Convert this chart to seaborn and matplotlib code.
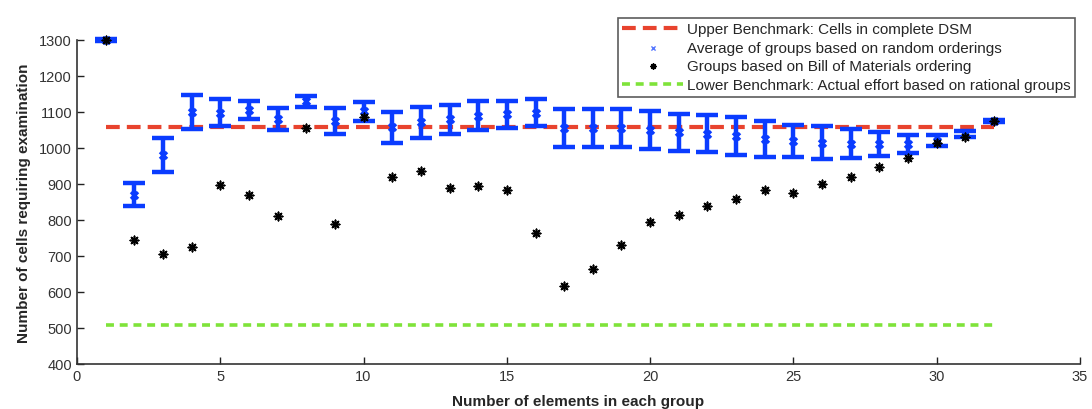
import matplotlib
matplotlib.use('Agg')
import matplotlib.pyplot as plt
import seaborn as sns
import numpy as np

# group size on the x axis
group_sizes = list(range(1, 33))

# average of random orderings and the spread of the error bars
random_mean = [1300, 870, 980, 1100, 1098, 1105, 1080, 1130, 1075, 1102,
               1058, 1072, 1080, 1090, 1093, 1098, 1055, 1055, 1055, 1050,
               1043, 1040, 1033, 1025, 1020, 1015, 1012, 1010, 1010, 1020,
               1038, 1075]
random_err = [3, 32, 47, 47, 38, 25, 30, 15, 35, 27,
              43, 43, 40, 40, 38, 38, 52, 52, 52, 52,
              52, 52, 52, 50, 45, 45, 40, 33, 25, 15,
              8, 4]

# bill of materials ordering
bom_values = [1300, 745, 705, 725, 897, 868, 810, 1055, 790, 1085,
              920, 935, 890, 893, 883, 765, 617, 665, 730, 795,
              815, 838, 858, 882, 875, 900, 920, 948, 972, 1015,
              1030, 1075]

upper_benchmark = 1057
lower_benchmark = 508

sns.set_style('ticks')
plt.rcParams['font.family'] = ['Liberation Sans', 'DejaVu Sans']
plt.rcParams['xtick.direction'] = 'in'
plt.rcParams['ytick.direction'] = 'in'

fig = plt.figure(figsize=(10.92, 4.10), dpi=100)
ax = fig.add_axes([0.0705, 0.11, 0.9185, 0.79])

red = '#e8432e'
green = '#7fe33a'
blue = '#0a3cff'

# upper benchmark
sns.lineplot(x=group_sizes, y=[upper_benchmark] * len(group_sizes), ax=ax,
             color=red, linewidth=3, linestyle=(0, (3.3, 1.7)),
             label='Upper Benchmark: Cells in complete DSM', zorder=2)

# random orderings with error bars
eb = ax.errorbar(group_sizes, random_mean, yerr=random_err, fmt='none',
                 ecolor=blue, elinewidth=3.2, capsize=8, capthick=3.2, zorder=3)
for part in eb.lines[1] + eb.lines[2]:
    part.set_clip_on(False)
sns.scatterplot(x=group_sizes, y=random_mean, ax=ax, marker='x', color=blue,
                s=25, linewidth=2.5, zorder=4, clip_on=False,
                label='Average of groups based on random orderings')

# bill of materials ordering
sns.scatterplot(x=group_sizes, y=bom_values, ax=ax, marker=(8, 2, 0),
                color='black', s=36, linewidth=1.2, edgecolor='black', zorder=5,
                clip_on=False,
                label='Groups based on Bill of Materials ordering')

# lower benchmark
sns.lineplot(x=group_sizes, y=[lower_benchmark] * len(group_sizes), ax=ax,
             color=green, linewidth=2.6, linestyle=(0, (2.2, 1.6)),
             label='Lower Benchmark: Actual effort based on rational groups',
             zorder=2)

ax.set_xlim(0, 35)
ax.set_ylim(400, 1300)
ax.set_xticks(np.arange(0, 36, 5))
ax.set_yticks(np.arange(400, 1301, 100))
ax.tick_params(labelsize=10.5, colors='#222222', length=5, width=1)
for lab in ax.get_xticklabels() + ax.get_yticklabels():
    lab.set_color('#333333')
sns.despine(ax=ax)
for s in ['left', 'bottom']:
    ax.spines[s].set_color('#333333')
    ax.spines[s].set_linewidth(1.2)

ax.set_xlabel('Number of elements in each group', fontsize=11,
              fontweight='bold', labelpad=8)
ax.set_ylabel('Number of cells requiring examination', fontsize=11,
              fontweight='bold', labelpad=6)

handles, labels = ax.get_legend_handles_labels()
ax.get_legend().remove()
leg = fig.legend(handles, labels, loc='upper right',
                 bbox_to_anchor=(1083 / 1092, 1 - 11 / 410),
                 fontsize=11, frameon=True, fancybox=False, edgecolor='#333333',
                 handlelength=4.0, handletextpad=0.25, borderpad=0.3,
                 labelspacing=0.3, markerscale=0.6)
leg.get_frame().set_linewidth(1.2)
leg.legend_handles[1].set_color('#5577ff')
leg.legend_handles[1].set_linewidth(1.0)

plt.savefig('out.png', dpi=100)
